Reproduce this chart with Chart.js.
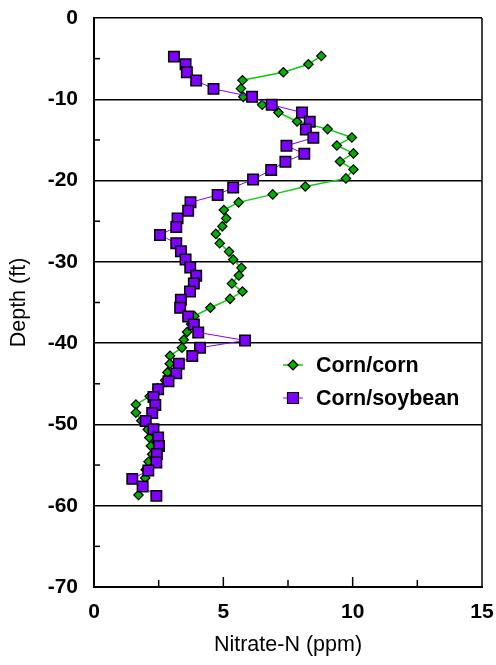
<!DOCTYPE html>
<html>
<head>
<meta charset="utf-8">
<script src="https://cdn.jsdelivr.net/npm/chart.js@4.4.0/dist/chart.umd.min.js"></script>
<style>
  html, body { margin: 0; padding: 0; background: #fff; }
</style>
</head>
<body>
<canvas id="nitrateChart" width="496" height="665"></canvas>
<script>
// depth (ft) and nitrate-N (ppm), corn/corn rotation
const cornCornDepth = [-4.67, -5.69, -6.67, -7.65, -8.68, -9.70, -10.68, -11.63, -12.73, -13.67,
  -14.70, -15.68, -16.66, -17.65, -18.63, -19.73, -20.72, -21.70, -22.68, -23.62,
  -24.65, -25.63, -26.56, -27.72, -28.74, -29.72, -30.74, -31.68, -32.67, -33.65,
  -34.55, -35.65, -36.68, -37.66, -38.62, -39.58, -40.56, -41.55, -42.53, -43.60,
  -44.58, -45.56, -46.54, -47.56, -48.55, -49.55, -50.62, -51.64, -52.65, -53.67,
  -54.59, -55.57, -56.58, -57.60, -58.68];
const cornCornNitrate = [8.79, 8.29, 7.32, 5.74, 5.68, 5.77, 6.5, 7.13, 7.85, 9.03,
  9.97, 9.39, 10.03, 9.51, 10.03, 9.74, 8.17, 6.91, 5.59, 5.02,
  5.11, 4.96, 4.71, 4.86, 5.22, 5.38, 5.7, 5.6, 5.33, 5.74,
  5.26, 4.5, 3.88, 3.75, 3.6, 3.47, 3.4, 2.94, 2.93, 2.84,
  2.75, 2.45, 2.15, 1.62, 1.62, 1.83, 2.08, 2.14, 2.2, 2.25,
  2.11, 2.0, 1.98, 1.9, 1.72];

// corn/soybean rotation
const cornSoyDepth = [-4.75, -5.69, -6.67, -7.70, -8.72, -9.70, -10.68, -11.63, -12.77, -13.72,
  -14.74, -15.72, -16.70, -17.68, -18.70, -19.86, -20.84, -21.77, -22.68, -23.70,
  -24.65, -25.70, -26.69, -27.72, -28.70, -29.72, -30.70, -31.72, -32.67, -33.65,
  -34.67, -35.65, -36.72, -37.70, -38.68, -39.67, -40.56, -41.59, -42.53, -43.72,
  -44.70, -45.68, -46.63, -47.61, -48.59, -49.58, -50.60, -51.62, -52.65, -53.63,
  -54.69, -55.67, -56.70, -57.63, -58.79];
const cornSoyNitrate = [3.09, 3.54, 3.59, 3.95, 4.62, 6.11, 6.87, 8.04, 8.34, 8.19,
  8.48, 7.44, 8.13, 7.4, 6.85, 6.15, 5.38, 4.78, 3.73, 3.64,
  3.23, 3.18, 2.55, 3.18, 3.36, 3.54, 3.72, 3.95, 3.86, 3.71,
  3.36, 3.33, 3.64, 3.86, 4.03, 5.84, 4.1, 3.8, 3.28, 3.18,
  2.88, 2.48, 2.3, 2.37, 2.25, 2.0, 2.3, 2.48, 2.51, 2.43,
  2.41, 2.1, 1.48, 1.88, 2.41];

const seriesNames = ['Corn/corn', 'Corn/soybean'];
const xTickValues = [0, 5, 10, 15];
const xMinorTicks = [2.5, 5, 7.5, 10, 12.5];
const yMinorTicks = [-5, -15, -25, -35, -45, -55, -65];

const green = '#00b000';
const greenLine = '#10cc10';
const purple = '#8000ff';
const fontFamily = '"Liberation Sans", Arial, sans-serif';

function toPoints(xs, ys) {
  return xs.map((v, i) => ({ x: v, y: ys[i] }));
}

// inside ticks, right border and legend
const framePlugin = {
  id: 'framePlugin',
  beforeDatasetsDraw(chart) {
    const ctx = chart.ctx;
    const a = chart.chartArea;
    const xs = chart.scales.x, ys = chart.scales.y;
    ctx.save();
    ctx.strokeStyle = '#000';
    ctx.lineWidth = 1.5;
    ctx.beginPath();
    ctx.moveTo(a.right, a.top);
    ctx.lineTo(a.right, a.bottom);
    ctx.stroke();
    xMinorTicks.forEach(v => {
      const px = xs.getPixelForValue(v);
      const len = (v % 5 === 0) ? 10 : 7;
      ctx.beginPath();
      ctx.moveTo(px, a.bottom);
      ctx.lineTo(px, a.bottom - len);
      ctx.stroke();
    });
    yMinorTicks.forEach(v => {
      const py = ys.getPixelForValue(v);
      ctx.beginPath();
      ctx.moveTo(a.left, py);
      ctx.lineTo(a.left + 6, py);
      ctx.stroke();
    });
    ctx.restore();
  },
  afterDraw(chart) {
    const ctx = chart.ctx;
    const a = chart.chartArea;
    const lx = a.left + 199, rows = [a.top + 347, a.top + 380];
    ctx.save();
    chart.data.datasets.forEach((ds, i) => {
      const y = rows[i];
      ctx.strokeStyle = ds.borderColor;
      ctx.lineWidth = ds.borderWidth;
      ctx.beginPath();
      ctx.moveTo(lx - 10, y);
      ctx.lineTo(lx + 10, y);
      ctx.stroke();
      ctx.fillStyle = ds.pointBackgroundColor;
      ctx.strokeStyle = '#000';
      ctx.lineWidth = 1.2;
      ctx.beginPath();
      if (i === 0) {
        ctx.moveTo(lx, y - 5); ctx.lineTo(lx + 5, y); ctx.lineTo(lx, y + 5); ctx.lineTo(lx - 5, y);
        ctx.closePath();
      } else {
        ctx.rect(lx - 5.5, y - 5.5, 11, 11);
      }
      ctx.fill();
      ctx.stroke();
      ctx.fillStyle = '#000';
      ctx.font = 'bold 21.5px ' + fontFamily;
      ctx.textBaseline = 'middle';
      ctx.fillText(ds.label, lx + 23, y + 1);
    });
    ctx.restore();
  }
};

const ctx = document.getElementById('nitrateChart').getContext('2d');
const chart = new Chart(ctx, {
  type: 'scatter',
  data: {
    datasets: [{
      label: seriesNames[0],
      data: toPoints(cornCornNitrate, cornCornDepth),
      showLine: true,
      borderColor: greenLine,
      borderWidth: 1.5,
      pointStyle: 'rectRot',
      pointRadius: 4.7,
      pointBackgroundColor: green,
      pointBorderColor: '#000',
      pointBorderWidth: 1.2,
      order: 2
    }, {
      label: seriesNames[1],
      data: toPoints(cornSoyNitrate, cornSoyDepth),
      showLine: true,
      borderColor: purple,
      borderWidth: 1,
      pointStyle: 'rect',
      pointRadius: 7.4,
      pointBackgroundColor: purple,
      pointBorderColor: '#000',
      pointBorderWidth: 1.5,
      order: 1
    }]
  },
  options: {
    responsive: false,
    animation: false,
    layout: { padding: { left: 0, right: 14, top: 18, bottom: 0 } },
    plugins: { legend: { display: false }, tooltip: { enabled: false } },
    scales: {
      x: {
        type: 'linear',
        min: 0,
        max: 15,
        afterBuildTicks: s => { s.ticks = xTickValues.map(v => ({ value: v })); },
        grid: { display: false, drawTicks: false },
        border: { display: true, color: '#000', width: 2 },
        ticks: {
          padding: 13,
          color: '#000',
          font: { family: fontFamily, size: 21, weight: 'bold' }
        },
        title: {
          display: true,
          text: 'Nitrate-N (ppm)',
          color: '#000',
          padding: { top: 0, bottom: 7 },
          font: { family: fontFamily, size: 21.5 }
        },
        afterFit: s => { s.height = 78; s.paddingLeft = 0; s.paddingRight = 0; }
      },
      y: {
        type: 'linear',
        min: -70,
        max: 0,
        ticks: {
          stepSize: 10,
          padding: 16,
          color: '#000',
          font: { family: fontFamily, size: 21, weight: 'bold' }
        },
        grid: { color: '#000', lineWidth: 1.5, drawTicks: false },
        border: { display: true, color: '#000', width: 2 },
        title: {
          display: true,
          text: 'Depth (ft)',
          color: '#000',
          padding: { top: 6, bottom: 0 },
          font: { family: fontFamily, size: 21.5 }
        },
        afterFit: s => { s.width = 94; s.paddingTop = 0; s.paddingBottom = 0; }
      }
    }
  },
  plugins: [framePlugin]
});
</script>
</body>
</html>
